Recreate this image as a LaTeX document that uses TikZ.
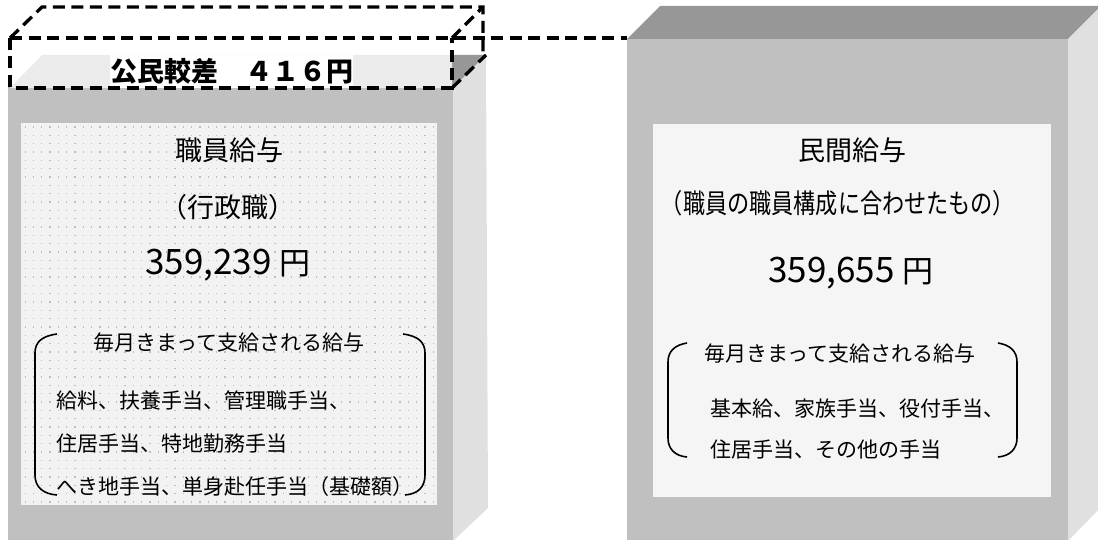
\documentclass[tikz,border=0pt]{standalone}
\usepackage{fontspec}
\newfontfamily\jp{Noto Sans CJK JP}
\definecolor{boxfront}{HTML}{C0C0C0}
\definecolor{boxside}{HTML}{E0E0E0}
\definecolor{boxtop}{HTML}{979797}
\definecolor{toplight}{HTML}{EBEBEB}
\definecolor{panelL}{HTML}{F2F2F2}
\definecolor{panelR}{HTML}{F5F5F5}
\definecolor{dotc}{HTML}{BEBEBE}
\tikzset{
  front/.style={fill=boxfront},
  side/.style={fill=boxside},
  topface/.style={fill=boxtop},
  dashbox/.style={draw=black, line width=3.3pt, dash pattern=on 12pt off 6.5pt},
  brace/.style={draw=black, line width=1.6pt},
  big/.style={font=\jp\fontsize{27}{30}\selectfont, inner sep=0pt},
  small/.style={font=\jp\fontsize{21}{24}\selectfont, inner sep=0pt},
}
\begin{document}
\begin{tikzpicture}[x=1pt,y=-1pt]
\useasboundingbox (0,0) rectangle (1098,540);
\clip (0,0) rectangle (1098,540);
% ---- left box
\fill[topface] (8,88) -- (41,55) -- (486,55) -- (453,88) -- cycle;
\fill[white] (10,38) rectangle (452,88);
\fill[toplight] (10,88) -- (42,55) -- (452,55) -- (452,88) -- cycle;
\fill[side] (453,88) -- (486,55) -- (488,508) -- (453,541) -- cycle;
\fill[front] (8,88) rectangle (453,541);
\fill[panelL] (21,123) rectangle (437,505);
\foreach \i in {0,...,49} {
  \foreach \j in {0,...,45} {
    \fill[dotc] (24.5+\i*8.33,126.5+\j*8.33) rectangle ++(1.3,1.3);
  }
}
% ---- right box
\fill[topface] (627,39) -- (660,6) -- (1101,6) -- (1068,39) -- cycle;
\fill[side] (1068,39) -- (1101,6) -- (1101,507) -- (1068,541) -- cycle;
\fill[front] (627,39) rectangle (1068,541);
\fill[panelR] (653,124) rectangle (1051,497);
% ---- difference label and dashed box
\node[fill=white, minimum width=243pt, minimum height=33pt, inner sep=0pt,
      font=\jp\bfseries\fontsize{27}{29}\selectfont] (diff) at (231.5,71.5) {公民較差　４１６円};
\coordinate (dA) at (10,38);
\coordinate (dB) at (452,38);
\coordinate (dC) at (452,88);
\coordinate (dD) at (10,88);
\coordinate (dE) at (42,7);
\coordinate (dF) at (483,7);
\coordinate (dG) at (483,55);
\coordinate (dH) at (486,55);
\coordinate (rc) at (627,38);
\draw[dashbox] (dA) -- (rc);
\draw[dashbox] (dA) -- (dD) -- (dC) -- (dB);
\draw[dashbox] (dA) -- (dE) -- (dF) -- (dG);
\draw[dashbox] (dB) -- (dF);
\draw[dashbox] (dC) -- (dH);
% ---- left texts
\node[big] (Ltitle) at (229,150) {職員給与};
\node[big] (Lsub) at (228,207) {（行政職）};
\node[inner sep=0pt] (Lamt) at (228,265) {\jp\fontsize{35}{38}\selectfont 359,239 \fontsize{31}{34}\selectfont 円};
\node[small] (Lhead) at (229,343) {毎月きまって支給される給与};
\node[small, anchor=west] (L1) at (56,400) {給料、扶養手当、管理職手当、};
\node[small, anchor=west] (L2) at (56,444) {住居手当、特地勤務手当};
\node[small, anchor=west] (L3) at (56,487) {へき地手当、単身赴任手当（基礎額）};
\draw[brace] (57,334) .. controls (42,336) and (35,342) .. (35,353) -- (35,475) .. controls (35,487) and (43,494) .. (57,495);
\draw[brace] (403,334) .. controls (418,336) and (425,342) .. (425,353) -- (425,475) .. controls (425,487) and (418,494) .. (405,495);
% ---- right texts
\node[big] (Rtitle) at (852,150) {民間給与};
\node[big, xscale=0.82] (Rsub) at (838,203) {（職員の職員構成に合わせたもの）};
\node[inner sep=0pt] (Ramt) at (851,273) {\jp\fontsize{35}{38}\selectfont 359,655 \fontsize{31}{34}\selectfont 円};
\node[small] (Rhead) at (840,354) {毎月きまって支給される給与};
\node[small, anchor=west] (R1) at (710,409) {基本給、家族手当、役付手当、};
\node[small, anchor=west] (R2) at (710,450) {住居手当、その他の手当};
\draw[brace] (687,343) .. controls (675,345) and (668,351) .. (668,362) -- (668,438) .. controls (668,449) and (675,456) .. (687,457);
\draw[brace] (998,343) .. controls (1010,345) and (1017,351) .. (1017,362) -- (1017,438) .. controls (1017,449) and (1010,456) .. (998,457);
\end{tikzpicture}
\end{document}
